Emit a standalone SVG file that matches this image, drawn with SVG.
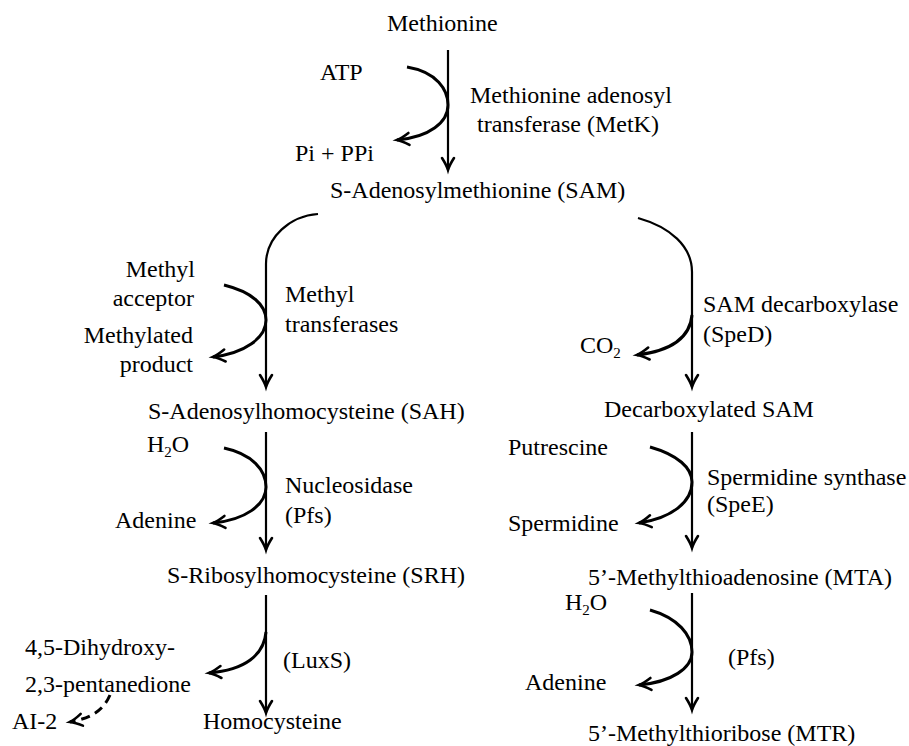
<svg xmlns="http://www.w3.org/2000/svg" width="909" height="746" viewBox="0 0 909 746">
<defs>
<style>
text{font-family:"Liberation Serif","Times New Roman",serif;font-size:24px;fill:#000}
.sub{font-size:15px}
.main{fill:none;stroke:#000;stroke-width:2.2}
.side{fill:none;stroke:#000;stroke-width:3}
.dash{fill:none;stroke:#000;stroke-width:3;stroke-dasharray:9,6}
</style>
<marker id="ah" markerUnits="userSpaceOnUse" markerWidth="20" markerHeight="20" viewBox="-14 -10 20 20" refX="0" refY="0" orient="auto">
<path d="M-12,-6 Q-5,-1.5 0,0 Q-5,1.5 -12,6" fill="none" stroke="#000" stroke-width="2.6" stroke-linecap="round"/>
</marker>
</defs>
<rect width="909" height="746" fill="#fff"/>
<g id="connectors">
<path class="main" d="M448,50 V170" marker-end="url(#ah)"/>
<path class="side" d="M407,67 C437,72 448,90 448,105 C448,122 430,137 397,140" marker-end="url(#ah)"/>
<path class="main" d="M318,214 C290,216 266,237 266,264 V387" marker-end="url(#ah)"/>
<path class="side" d="M224,285 C252,292 266,305 266,320 C266,338 245,353 213,357" marker-end="url(#ah)"/>
<path class="main" d="M638,218 C670,227 692,246 692,272 V387" marker-end="url(#ah)"/>
<path class="side" d="M692,315 C690,338 670,351 637,355" marker-end="url(#ah)"/>
<path class="main" d="M266,432 V550" marker-end="url(#ah)"/>
<path class="side" d="M224,448 C252,454 266,470 266,487 C266,505 245,520 213,523" marker-end="url(#ah)"/>
<path class="main" d="M692,432 V548" marker-end="url(#ah)"/>
<path class="side" d="M650,447 C678,455 692,468 692,482 C692,502 672,518 639,523" marker-end="url(#ah)"/>
<path class="main" d="M266,595 V713" marker-end="url(#ah)"/>
<path class="side" d="M266,632 C264,655 245,670 209,673" marker-end="url(#ah)"/>
<path class="dash" d="M110,695 C103,711 91,718 70,722" marker-end="url(#ah)"/>
<path class="main" d="M692,593 V710" marker-end="url(#ah)"/>
<path class="side" d="M650,610 C678,618 692,635 692,652 C692,668 672,682 639,685" marker-end="url(#ah)"/>
</g>
<g id="methionine"><text x="387" y="31">Methionine</text></g>
<g id="atp"><text x="320" y="80">ATP</text></g>
<g id="pi-ppi"><text x="295" y="161">Pi + PPi</text></g>
<g id="metk"><text x="470" y="103">Methionine adenosyl</text><text x="477" y="132">transferase (MetK)</text></g>
<g id="sam"><text x="330" y="198">S-Adenosylmethionine (SAM)</text></g>
<g id="methyl-acceptor"><text x="195" y="277" text-anchor="end">Methyl</text><text x="194" y="306" text-anchor="end">acceptor</text></g>
<g id="methylated-product"><text x="193" y="343" text-anchor="end">Methylated</text><text x="193" y="372" text-anchor="end">product</text></g>
<g id="methyltransferases"><text x="285" y="302">Methyl</text><text x="285" y="332">transferases</text></g>
<g id="sped"><text x="703" y="312">SAM decarboxylase</text><text x="703" y="342">(SpeD)</text></g>
<g id="co2"><text x="580" y="353">CO<tspan class="sub" dy="5">2</tspan></text></g>
<g id="sah"><text x="148" y="419">S-Adenosylhomocysteine (SAH)</text></g>
<g id="dcsam"><text x="604" y="417">Decarboxylated SAM</text></g>
<g id="h2o-1"><text x="147" y="452">H<tspan class="sub" dy="5">2</tspan><tspan dy="-5">O</tspan></text></g>
<g id="adenine-1"><text x="115" y="528">Adenine</text></g>
<g id="pfs-1"><text x="285" y="493">Nucleosidase</text><text x="285" y="523">(Pfs)</text></g>
<g id="putrescine"><text x="508" y="455">Putrescine</text></g>
<g id="spermidine"><text x="508" y="531">Spermidine</text></g>
<g id="spee"><text x="707" y="485">Spermidine synthase</text><text x="707" y="512">(SpeE)</text></g>
<g id="srh"><text x="167" y="583">S-Ribosylhomocysteine (SRH)</text></g>
<g id="mta"><text x="588" y="585">5’-Methylthioadenosine (MTA)</text></g>
<g id="dpd"><text x="25" y="655">4,5-Dihydroxy-</text><text x="25" y="692">2,3-pentanedione</text></g>
<g id="luxs"><text x="283" y="668">(LuxS)</text></g>
<g id="ai2"><text x="12" y="729">AI-2</text></g>
<g id="homocysteine"><text x="203" y="729">Homocysteine</text></g>
<g id="h2o-2"><text x="565" y="610">H<tspan class="sub" dy="5">2</tspan><tspan dy="-5">O</tspan></text></g>
<g id="adenine-2"><text x="525" y="690">Adenine</text></g>
<g id="pfs-2"><text x="728" y="665">(Pfs)</text></g>
<g id="mtr"><text x="588" y="741">5’-Methylthioribose (MTR)</text></g>
</svg>
